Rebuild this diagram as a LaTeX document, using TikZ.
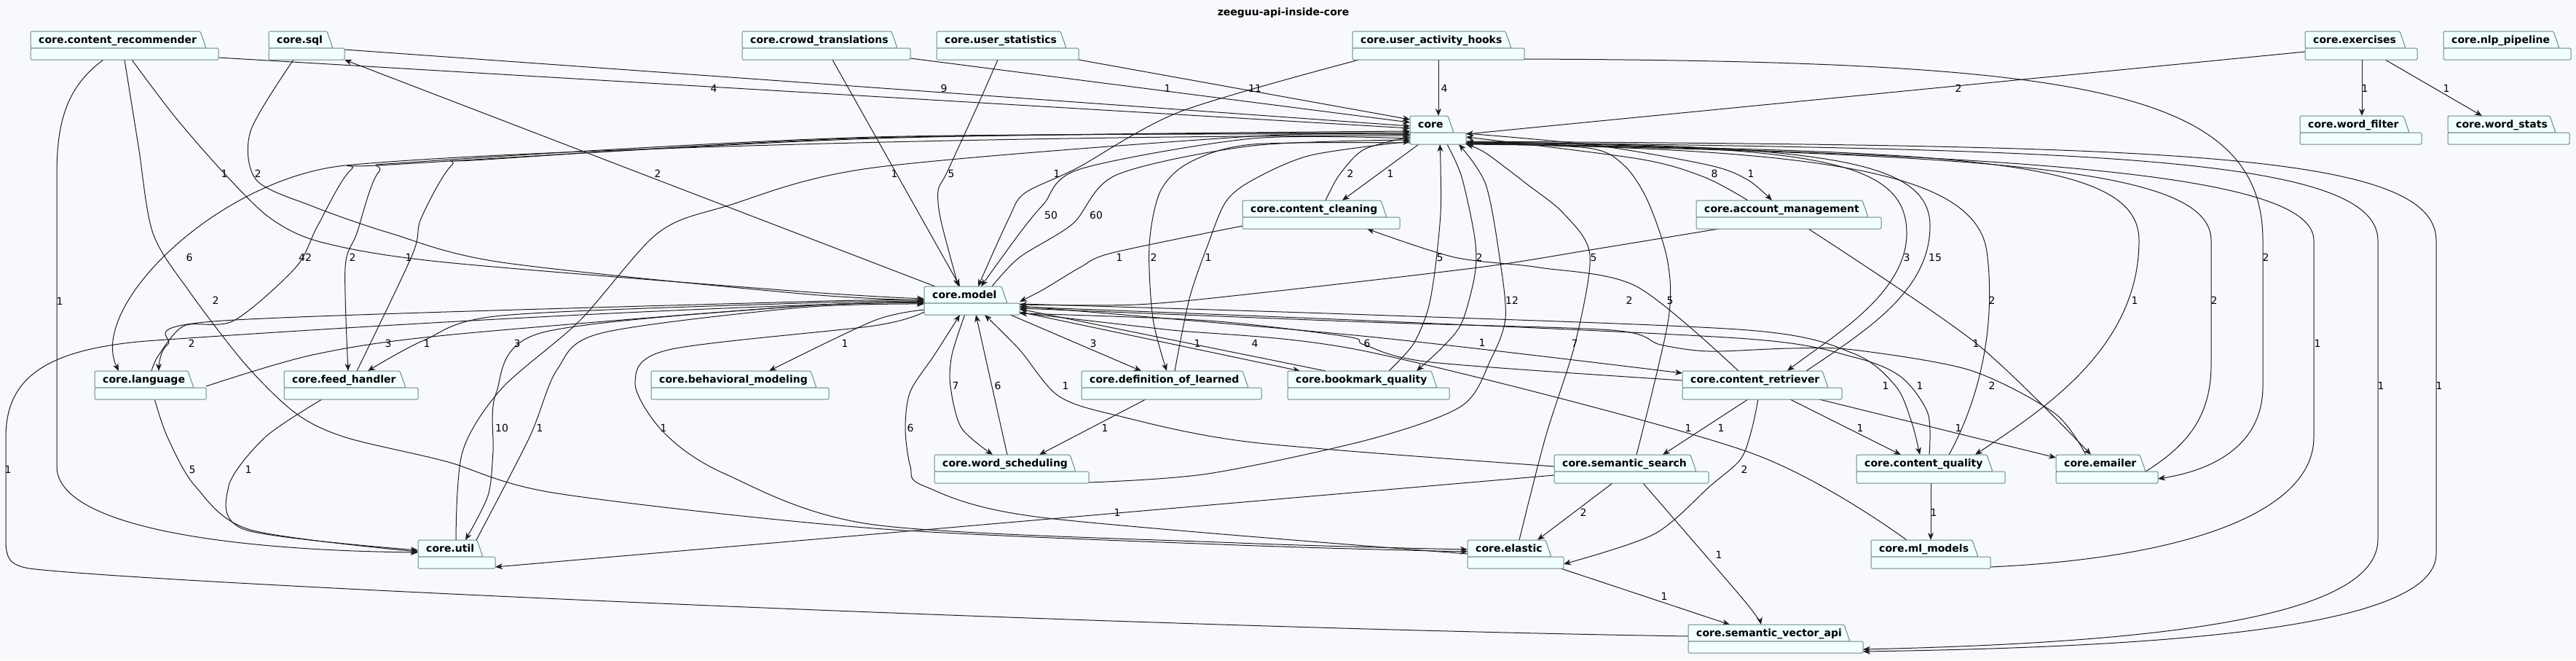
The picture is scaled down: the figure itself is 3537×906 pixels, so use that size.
\documentclass[tikz,border=0pt]{standalone}
\usepackage{fontspec}
\setmainfont{DejaVu Sans}
\usetikzlibrary{arrows.meta}
\definecolor{bgcol}{HTML}{F8F9FD}
\definecolor{pkgfill}{HTML}{F1FFFF}
\definecolor{pkgborder}{HTML}{708586}
\definecolor{edgecol}{HTML}{1C1C1C}
\pgfdeclarelayer{back}
\pgfsetlayers{back,main}
\tikzset{
  dep/.style={draw=edgecol, line width=1pt, -{Stealth[length=10pt,width=8pt,inset=3pt]}},
  lbl/.style={font=\fontsize{14}{16}\selectfont, inner sep=0pt, text=black},
  pkgtext/.style={font=\bfseries\fontsize{14}{16}\selectfont, anchor=base west, inner sep=0pt},
  pkgline/.style={draw=pkgborder, line width=1pt, fill=pkgfill, rounded corners=1.5pt},
}
\newcommand{\pkg}[6]{%
  \filldraw[pkgline] (#2,#3+23) -- (#2,#3) -- (#4-8,#3) -- (#4,#3+23) -- cycle;
  \filldraw[pkgline] (#2,#3+23) rectangle (#5,#3+39);
  \node[pkgtext] (#1-t) at (#2+11,#3+16) {#6};
  \node[inner sep=0pt, outer sep=0pt, minimum width=#5pt-#2pt, minimum height=39pt, anchor=north west] (#1) at (#2,#3) {};
}
\begin{document}
\begin{tikzpicture}[x=1pt,y=-1pt]
\useasboundingbox (0,0) rectangle (3537,906);
\node[font=\bfseries\fontsize{14}{16}\selectfont, inner sep=0pt] (title) at (1762,18) {zeeguu-api-inside-core};

\pkg{cr}{42}{43}{283}{300}{core.content\_recommender}
\pkg{sql}{369}{43}{457}{473}{core.sql}
\pkg{ct}{1019}{43}{1232}{1250}{core.crowd\_translations}
\pkg{us}{1286}{43}{1464}{1481}{core.user\_statistics}
\pkg{uah}{1857}{43}{2075}{2093}{core.user\_activity\_hooks}
\pkg{exer}{3165}{43}{3303}{3319}{core.exercises}
\pkg{nlp}{3355}{43}{3514}{3530}{core.nlp\_pipeline}
\pkg{core}{1936}{159}{1996}{2013}{core}
\pkg{wf}{3158}{159}{3308}{3325}{core.word\_filter}
\pkg{wst}{3361}{159}{3509}{3528}{core.word\_stats}
\pkg{cc}{1706}{275}{1904}{1922}{core.content\_cleaning}
\pkg{am}{2329}{275}{2565}{2583}{core.account\_management}
\pkg{model}{1269}{393}{1383}{1400}{core.model}
\pkg{lang}{130}{509}{266}{283}{core.language}
\pkg{fh}{390}{509}{557}{574}{core.feed\_handler}
\pkg{bm}{894}{509}{1121}{1138}{core.behavioral\_modeling}
\pkg{dol}{1485}{509}{1714}{1732}{core.definition\_of\_learned}
\pkg{bq}{1768}{509}{1973}{1990}{core.bookmark\_quality}
\pkg{cret}{2310}{509}{2510}{2529}{core.content\_retriever}
\pkg{wsch}{1283}{624}{1477}{1495}{core.word\_scheduling}
\pkg{ss}{2134}{624}{2329}{2346}{core.semantic\_search}
\pkg{cq}{2549}{624}{2736}{2753}{core.content\_quality}
\pkg{emlr}{2823}{624}{2946}{2963}{core.emailer}
\pkg{util}{574}{741}{663}{680}{core.util}
\pkg{el}{2015}{741}{2130}{2147}{core.elastic}
\pkg{ml}{2569}{741}{2716}{2733}{core.ml\_models}
\pkg{sva}{2318}{857}{2540}{2558}{core.semantic\_vector\_api}

\begin{pgfonlayer}{back}
\fill[bgcol] (0,0) rectangle (3537,906);
% top row into core
\draw[dep] ([shift={(258,36)}]cr.north west) -- ([shift={(0,17)}]core.north west);
\draw[dep] ([shift={(104,25)}]sql.north west) -- ([shift={(0,14)}]core.north west);
\draw[dep] ([shift={(231,37)}]ct.north west) -- ([shift={(0,9)}]core.north west);
\draw[dep] ([shift={(195,39)}]us.north west) -- ([shift={(0,5)}]core.north west);
\draw[dep] ([shift={(118,39)}]uah.north west) -- ([shift={(39,0)}]core.north west);
\draw[dep] ([shift={(0,28)}]exer.north west) -- ([shift={(77,25)}]core.north west);
\draw[dep] ([shift={(78,39)}]exer.north west) -- ([shift={(85,0)}]wf.north west);
\draw[dep] ([shift={(110,39)}]exer.north west) -- ([shift={(47,0)}]wst.north west);
% far right loops
\draw[dep] ([shift={(236,38)}]uah.north west) .. controls (2850,84) and (3107,120) .. (3107,330) -- (3107,530) .. controls (3107,610) and (3040,645) .. ([shift={(140,33)}]emlr.north west);
\draw[dep] ([shift={(123,23)}]emlr.north west) .. controls (3005,610) and (3036,570) .. (3036,500) -- (3036,330) .. controls (3036,232) and (2750,212) .. ([shift={(77,38)}]core.north west);
\draw[dep] ([shift={(164,37)}]ml.north west) .. controls (3010,765) and (3177,700) .. (3177,600) -- (3177,330) .. controls (3177,240) and (2800,212) .. ([shift={(77,37)}]core.north west);
\draw[dep] ([shift={(77,36)}]core.north west) .. controls (2850,205) and (3265,212) .. (3265,330) -- (3265,740) .. controls (3265,850) and (2950,882) .. ([shift={(240,34)}]sva.north west);
\draw[dep] ([shift={(77,35)}]core.north west) .. controls (2950,200) and (3345,205) .. (3345,330) -- (3345,760) .. controls (3345,865) and (2950,888) .. ([shift={(240,37)}]sva.north west);
\draw[dep] ([shift={(77,39)}]core.north west) .. controls (2720,205) and (2937,222) .. (2937,330) .. controls (2937,480) and (2800,565) .. ([shift={(163,0)}]cq.north west);
\draw[dep] ([shift={(127,0)}]cq.north west) .. controls (2730,525) and (2738,420) .. (2728,345) .. controls (2712,235) and (2500,205) .. ([shift={(77,38)}]core.north west);
\draw[dep] ([shift={(77,37)}]core.north west) .. controls (2480,200) and (2618,215) .. (2618,320) .. controls (2618,405) and (2510,465) .. ([shift={(144,0)}]cret.north west);
\draw[dep] ([shift={(170,0)}]cret.north west) .. controls (2560,455) and (2650,400) .. (2650,310) .. controls (2650,218) and (2500,199) .. ([shift={(77,36)}]core.north west);
\draw[dep] plot[smooth,tension=.5] coordinates {([shift={(71,0)}]am.north west) (2340,243) (2250,218) ([shift={(77,29)}]core.north west)};
\draw[dep] plot[smooth,tension=.5] coordinates {([shift={(77,24)}]core.north west) (2195,200) (2348,227) (2400,247) ([shift={(104,0)}]am.north west)};
% core <-> content_cleaning, model
\draw[dep] ([shift={(12,39)}]core.north west) -- ([shift={(137,0)}]cc.north west);
\draw[dep] plot[smooth,tension=.5] coordinates {([shift={(114,0)}]cc.north west) (1839,240) (1873,205) ([shift={(0,29)}]core.north west)};
\draw[dep] plot[smooth,tension=.5] coordinates {([shift={(0,35)}]cc.north west) (1527,347) (1483,367) (1433,397) ([shift={(131,21)}]model.north west)};
\draw[dep] plot[smooth,tension=.5] coordinates {([shift={(0,31)}]core.north west) (1720,190) (1483,232) (1433,280) (1400,320) ([shift={(78,0)}]model.north west)};
\draw[dep] plot[smooth,tension=.5] coordinates {([shift={(93,0)}]model.north west) (1400,353) (1473,307) (1533,240) (1720,200) ([shift={(0,33)}]core.north west)};
\draw[dep] plot[smooth,tension=.5] coordinates {([shift={(9,39)}]uah.north west) (1621,153) (1480,230) (1407,265) (1385,300) ([shift={(74,0)}]model.north west)};
\draw[dep] ([shift={(124,39)}]ct.north west) -- ([shift={(49,0)}]model.north west);
\draw[dep] plot[smooth,tension=.5] coordinates {([shift={(84,39)}]us.north west) (1340,150) (1300,237) (1288,262) (1292,303) ([shift={(47,0)}]model.north west)};
\draw[dep] plot[smooth,tension=.5] coordinates {([shift={(34,39)}]sql.north west) (344,180) (352,247) (429,283) (536,320) (689,360) (1100,403) ([shift={(0,19)}]model.north west)};
\draw[dep] plot[smooth,tension=.5] coordinates {([shift={(139,39)}]cr.north west) (240,160) (308,238) (372,300) (444,333) (612,360) (1100,400) ([shift={(0,17)}]model.north west)};
\draw[dep] ([shift={(15,0)}]model.north west) -- ([shift={(104,39)}]sql.north west);
% left side
\draw[dep] ([shift={(100,39)}]cr.north west) .. controls (90,120) and (78,170) .. (78,240) -- (78,640) .. controls (78,720) and (300,755) .. ([shift={(0,17)}]util.north west);
\draw[dep] plot[smooth,tension=.5] coordinates {([shift={(129,39)}]cr.north west) (190,200) (210,320) (260,400) (337,500) (406,567) (474,600) (612,633) (765,677) (1200,725) (1700,748) ([shift={(0,16)}]el.north west)};
\draw[dep] ([shift={(0,27)}]core.north west) .. controls (1400,186) and (700,205) .. (474,227) .. controls (300,245) and (120,420) .. ([shift={(33,0)}]lang.north west);
\draw[dep] plot[smooth,tension=.5] coordinates {([shift={(78,0)}]lang.north west) (218,487) (253,447) (321,440) (406,367) (436,310) (482,233) (536,226) (1200,190) ([shift={(0,21)}]core.north west)};
\draw[dep] plot[smooth,tension=.5] coordinates {([shift={(0,25)}]core.north west) (1200,188) (574,222) (520,236) (490,320) (474,367) ([shift={(88,0)}]fh.north west)};
\draw[dep] plot[smooth,tension=.5] coordinates {([shift={(100,0)}]fh.north west) (566,350) (578,300) (620,227) (666,219) (1200,189) ([shift={(0,23)}]core.north west)};
\draw[dep] plot[smooth,tension=.5] coordinates {([shift={(0,19)}]model.north west) (1100,414) (306,440) (230,473) ([shift={(88,0)}]lang.north west)};
\draw[dep] plot[smooth,tension=.5] coordinates {([shift={(153,21)}]lang.north west) (429,487) (612,460) (1100,420) ([shift={(0,23)}]model.north west)};
\draw[dep] plot[smooth,tension=.5] coordinates {([shift={(0,20)}]model.north west) (1100,416) (689,433) (582,467) ([shift={(115,0)}]fh.north west)};
\draw[dep] plot[smooth,tension=.5] coordinates {([shift={(82,38)}]lang.north west) (230,600) (268,667) (344,727) ([shift={(0,16)}]util.north west)};
\draw[dep] plot[smooth,tension=.5] coordinates {([shift={(52,39)}]fh.north west) (364,600) (314,667) (337,727) ([shift={(0,14)}]util.north west)};
\draw[dep] plot[smooth,tension=.5] coordinates {([shift={(0,22)}]model.north west) (1100,420) (742,457) (681,540) (677,620) (670,680) ([shift={(65,0)}]util.north west)};
\draw[dep] plot[smooth,tension=.5] coordinates {([shift={(80,0)}]util.north west) (727,600) (765,507) (826,457) (1100,422) ([shift={(0,24)}]model.north west)};
\draw[dep] plot[smooth,tension=.5] coordinates {([shift={(52,0)}]util.north west) (635,620) (689,533) (796,440) (903,320) (1000,282) (1200,230) (1720,187) ([shift={(0,26)}]core.north west)};
\draw[dep] plot[smooth,tension=.5] coordinates {([shift={(0,32)}]model.north west) (1200,440) ([shift={(162,0)}]bm.north west)};
\draw[dep] plot[smooth,tension=.5] coordinates {([shift={(0,35)}]model.north west) (1200,447) (918,480) (872,525) (911,593) (995,650) (1200,720) (1700,745) ([shift={(0,13)}]el.north west)};
\draw[dep] ([shift={(0,16)}]sva.north west) .. controls (1500,860) and (200,800) .. (40,780) .. controls (12,775) and (8,765) .. (8,740) -- (8,600) .. controls (8,520) and (60,480) .. (200,468) .. controls (600,440) and (1000,420) .. ([shift={(0,21)}]model.north west);
% around model bottom
\draw[dep] plot[smooth,tension=.5] coordinates {([shift={(0,19)}]el.north west) (1430,710) (1269,667) (1250,640) (1243,587) (1250,537) (1283,487) ([shift={(49,39)}]model.north west)};
\draw[dep] plot[smooth,tension=.5] coordinates {([shift={(56,38)}]model.north west) (1307,487) (1305,530) (1320,587) ([shift={(80,0)}]wsch.north west)};
\draw[dep] ([shift={(100,0)}]wsch.north west) -- ([shift={(71,39)}]model.north west);
\draw[dep] ([shift={(88,39)}]dol.north west) -- ([shift={(144,0)}]wsch.north west);
\draw[dep] ([shift={(116,38)}]model.north west) -- ([shift={(82,0)}]dol.north west);
\draw[dep] plot[smooth,tension=.5] coordinates {([shift={(0,37)}]core.north west) (1720,198) (1633,223) (1593,263) (1578,337) (1583,437) ([shift={(117,0)}]dol.north west)};
\draw[dep] plot[smooth,tension=.5] coordinates {([shift={(128,0)}]dol.north west) (1633,410) (1658,337) (1683,277) (1720,247) (1800,213) ([shift={(0,35)}]core.north west)};
\draw[dep] ([shift={(131,35)}]model.north west) -- ([shift={(17,0)}]bq.north west);
\draw[dep] ([shift={(52,0)}]bq.north west) -- ([shift={(131,31)}]model.north west);
\draw[dep] plot[smooth,tension=.5] coordinates {([shift={(139,0)}]bq.north west) (1940,473) (1960,427) (1970,373) (1978,293) (1978,227) ([shift={(41,39)}]core.north west)};
\draw[dep] plot[smooth,tension=.5] coordinates {([shift={(51,39)}]core.north west) (2007,243) (2025,327) (2025,377) (2007,443) (1980,477) ([shift={(177,0)}]bq.north west)};
\draw[dep] plot[smooth,tension=.5] coordinates {([shift={(212,38)}]wsch.north west) (1659,650) (1880,603) (2007,557) (2047,493) (2067,437) (2060,360) (2040,253) ([shift={(67,39)}]core.north west)};
\draw[dep] plot[smooth,tension=.5] coordinates {([shift={(31,39)}]am.north west) (2183,343) (2030,367) (1720,403) (1560,418) ([shift={(131,25)}]model.north west)};
\draw[dep] plot[smooth,tension=.5] coordinates {([shift={(154,39)}]am.north west) (2712,470) ([shift={(48,0)}]emlr.north west)};
\draw[dep] plot[smooth,tension=.5] coordinates {([shift={(77,0)}]cret.north west) (2247,393) (2113,367) (1997,353) ([shift={(171,39)}]cc.north west)};
\draw[dep] plot[smooth,tension=.5] coordinates {([shift={(131,27)}]model.north west) (1880,462) ([shift={(0,3)}]cret.north west)};
\draw[dep] plot[smooth,tension=.5] coordinates {([shift={(0,13)}]cret.north west) (1965,497) (1873,473) (1850,462) (1659,440) ([shift={(131,37)}]model.north west)};
\draw[dep] plot[smooth,tension=.5] coordinates {([shift={(49,0)}]ml.north west) (2400,620) (1880,483) (1600,452) ([shift={(131,36)}]model.north west)};
\draw[dep] plot[smooth,tension=.5] coordinates {([shift={(131,24)}]model.north west) (1880,432) (2400,453) (2545,485) (2603,530) (2625,580) ([shift={(87,0)}]cq.north west)};
\draw[dep] plot[smooth,tension=.5] coordinates {([shift={(100,0)}]cq.north west) (2647,567) (2610,517) (2545,490) (2400,465) (1880,440) ([shift={(131,28)}]model.north west)};
\draw[dep] plot[smooth,tension=.5] coordinates {([shift={(41,0)}]emlr.north west) (2821,567) (2705,508) (2545,480) (2458,478) (2347,482) (2280,473) (2213,453) (1880,442) ([shift={(131,30)}]model.north west)};
% content_retriever / semantic_search / elastic
\draw[dep] ([shift={(90,39)}]cret.north west) -- ([shift={(149,0)}]ss.north west);
\draw[dep] ([shift={(148,39)}]cret.north west) -- ([shift={(61,0)}]cq.north west);
\draw[dep] ([shift={(188,39)}]cret.north west) -- ([shift={(0,4)}]emlr.north west);
\draw[dep] plot[smooth,tension=.5] coordinates {([shift={(104,39)}]cret.north west) (2405,590) (2390,630) (2348,667) (2271,733) ([shift={(132,33)}]el.north west)};
\draw[dep] plot[smooth,tension=.5] coordinates {([shift={(0,16)}]ss.north west) (1720,607) (1533,570) (1453,543) (1400,480) ([shift={(83,39)}]model.north west)};
\draw[dep] ([shift={(0,28)}]ss.north west) -- ([shift={(106,37)}]util.north west);
\draw[dep] ([shift={(80,39)}]ss.north west) -- ([shift={(96,0)}]el.north west);
\draw[dep] plot[smooth,tension=.5] coordinates {([shift={(122,39)}]ss.north west) (2394,823) ([shift={(100,0)}]sva.north west)};
\draw[dep] plot[smooth,tension=.5] coordinates {([shift={(113,0)}]ss.north west) (2290,443) (2290,360) (2263,277) (2230,227) (2180,203) ([shift={(77,38)}]core.north west)};
\draw[dep] plot[smooth,tension=.5] coordinates {([shift={(71,0)}]el.north west) (2122,600) (2163,470) (2183,350) (2147,293) (2097,253) (2040,210) ([shift={(77,39)}]core.north west)};
\draw[dep] ([shift={(128,39)}]el.north west) -- ([shift={(57,0)}]sva.north west);
\draw[dep] ([shift={(102,39)}]cq.north west) -- ([shift={(82,0)}]ml.north west);
\end{pgfonlayer}

% edge labels
\node[lbl] (l1) at (980,121) {4};
\node[lbl] (l2) at (1296,121) {9};
\node[lbl] (l3) at (1603,121) {1};
\node[lbl] (l4) at (1723,121) {11};
\node[lbl] (l5) at (1983,121) {4};
\node[lbl] (l6) at (2689,121) {2};
\node[lbl] (l7) at (3247,121) {1};
\node[lbl] (l8) at (3359,121) {1};
\node[lbl] (l9) at (3111,353) {2};
\node[lbl] (l10) at (3040,412) {2};
\node[lbl] (l11) at (3182,471) {1};
\node[lbl] (l12) at (3269,529) {1};
\node[lbl] (l13) at (3349,529) {1};
\node[lbl] (l14) at (2931,412) {1};
\node[lbl] (l15) at (2735,412) {2};
\node[lbl] (l16) at (2618,353) {3};
\node[lbl] (l17) at (2657,353) {15};
\node[lbl] (l18) at (2354,238) {8};
\node[lbl] (l19) at (2404,238) {1};
\node[lbl] (l20) at (1909,238) {1};
\node[lbl] (l21) at (1854,238) {2};
\node[lbl] (l22) at (1537,353) {1};
\node[lbl] (l23) at (1443,295) {50};
\node[lbl] (l24) at (1505,295) {60};
\node[lbl] (l25) at (1451,238) {1};
\node[lbl] (l26) at (1228,238) {1};
\node[lbl] (l27) at (1306,238) {5};
\node[lbl] (l28) at (354,238) {2};
\node[lbl] (l29) at (308,238) {1};
\node[lbl] (l30) at (903,238) {2};
\node[lbl] (l31) at (82,413) {1};
\node[lbl] (l32) at (296,412) {2};
\node[lbl] (l33) at (260,353) {6};
\node[lbl] (l34) at (419,353) {42};
\node[lbl] (l35) at (484,353) {2};
\node[lbl] (l36) at (561,353) {1};
\node[lbl] (l37) at (263,471) {2};
\node[lbl] (l38) at (533,471) {3};
\node[lbl] (l39) at (586,471) {1};
\node[lbl] (l40) at (264,644) {5};
\node[lbl] (l41) at (341,644) {1};
\node[lbl] (l42) at (689,587) {10};
\node[lbl] (l43) at (741,587) {1};
\node[lbl] (l44) at (710,471) {3};
\node[lbl] (l45) at (1160,471) {1};
\node[lbl] (l46) at (911,587) {1};
\node[lbl] (l47) at (11,644) {1};
\node[lbl] (l48) at (1250,587) {6};
\node[lbl] (l49) at (1312,529) {7};
\node[lbl] (l50) at (1370,529) {6};
\node[lbl] (l51) at (1517,587) {1};
\node[lbl] (l52) at (1501,471) {3};
\node[lbl] (l53) at (1584,353) {2};
\node[lbl] (l54) at (1659,353) {1};
\node[lbl] (l55) at (1644,471) {1};
\node[lbl] (l56) at (1723,471) {4};
\node[lbl] (l57) at (1977,353) {5};
\node[lbl] (l58) at (2031,353) {2};
\node[lbl] (l59) at (2076,412) {12};
\node[lbl] (l60) at (2188,353) {5};
\node[lbl] (l61) at (2713,471) {1};
\node[lbl] (l62) at (2237,412) {2};
\node[lbl] (l63) at (2035,470) {1};
\node[lbl] (l64) at (1877,471) {6};
\node[lbl] (l65) at (2318,587) {1};
\node[lbl] (l66) at (2589,529) {1};
\node[lbl] (l67) at (2636,529) {1};
\node[lbl] (l68) at (2735,529) {2};
\node[lbl] (l69) at (2363,587) {1};
\node[lbl] (l70) at (2554,587) {1};
\node[lbl] (l71) at (2689,587) {1};
\node[lbl] (l72) at (2395,644) {2};
\node[lbl] (l73) at (1463,529) {1};
\node[lbl] (l74) at (1534,703) {1};
\node[lbl] (l75) at (2174,703) {2};
\node[lbl] (l76) at (2360,761) {1};
\node[lbl] (l77) at (2293,412) {5};
\node[lbl] (l78) at (2162,471) {7};
\node[lbl] (l79) at (2285,818) {1};
\node[lbl] (l80) at (2655,703) {1};
\end{tikzpicture}
\end{document}
